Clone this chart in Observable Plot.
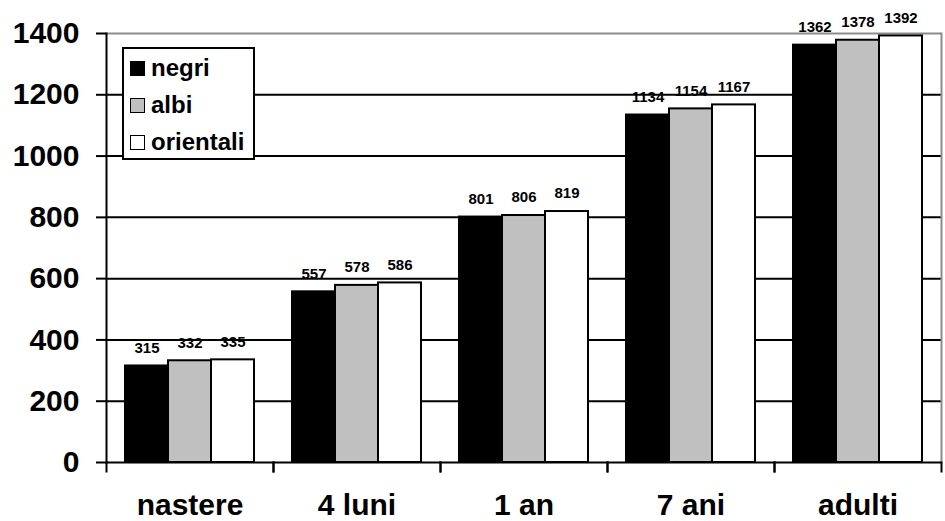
<!DOCTYPE html>
<html>
<head>
<meta charset="utf-8">
<script src="https://cdn.jsdelivr.net/npm/d3@7"></script>
<script src="https://cdn.jsdelivr.net/npm/@observablehq/plot@0.6"></script>
<style>
  html, body { margin: 0; padding: 0; background: #fff; }
  #wrap { position: relative; width: 945px; height: 521px; font-family: "Liberation Sans", Arial, sans-serif; }
  #legend { position: absolute; left: 122px; top: 47px; width: 129px; height: 109px; border: 2px solid #000; background: #fff; }
  .item { position: absolute; left: 6px; height: 24px; display: flex; align-items: center; font-size: 24px; font-weight: bold; line-height: 24px; }
  .sw { width: 13px; height: 13px; border: 1.5px solid #000; margin-right: 6px; flex: none; }
</style>
</head>
<body>
<div id="wrap"></div>
<script>
const categories = ["nastere", "4 luni", "1 an", "7 ani", "adulti"];
const series = ["negri", "albi", "orientali"];
const negri = [315, 557, 801, 1134, 1362];
const albi = [332, 578, 806, 1154, 1378];
const orientali = [335, 586, 819, 1167, 1392];
const yTicks = [0, 200, 400, 600, 800, 1000, 1200, 1400];
const colors = ["#000000", "#c0c0c0", "#ffffff"];

const valuesBySeries = [negri, albi, orientali];
const data = [];
categories.forEach((c, i) => series.forEach((s, j) => data.push({cat: c, series: s, value: valuesBySeries[j][i]})));

const W = 945, H = 521, mT = 33, mB = 59, mL = 106, mR = 4;
const innerH = H - mT - mB;

const chart = Plot.plot({
  width: W, height: H,
  marginTop: mT, marginBottom: mB, marginLeft: mL, marginRight: mR,
  style: {fontFamily: "'Liberation Sans', Arial, sans-serif", background: "#fff", overflow: "visible"},
  fx: {domain: categories, padding: 0, label: null},
  x: {domain: series, paddingInner: 0, paddingOuter: 0.44, axis: null},
  y: {domain: [0, 1400], label: null},
  color: {domain: series, range: colors},
  marks: [
    Plot.ruleY(yTicks.filter(v => v > 0 && v < 1400), {stroke: "#000", strokeWidth: 2}),
    Plot.ruleY([1400], {stroke: "#8c8c8c", strokeWidth: 2}),
    Plot.frame({anchor: "right", stroke: "#8c8c8c", strokeWidth: 2, facetAnchor: "right"}),
    Plot.barY(data, {fx: "cat", x: "series", y: "value", fill: "series", stroke: "#000", strokeWidth: 2}),
    Plot.ruleY([0], {stroke: "#000", strokeWidth: 2}),
    Plot.frame({anchor: "left", stroke: "#000", strokeWidth: 2, facetAnchor: "left"}),
    Plot.frame({anchor: "left", stroke: "#000", strokeWidth: 2, insetTop: innerH, insetBottom: -9}),
    Plot.frame({anchor: "right", stroke: "#000", strokeWidth: 2, insetTop: innerH, insetBottom: -9}),
    Plot.text(data, {fx: "cat", x: "series", y: "value", text: d => String(d.value), dy: -18, fontSize: 15, fontWeight: "bold", fill: "#000", lineAnchor: "middle"}),
    Plot.axisY({ticks: yTicks, tickFormat: d => String(d), tickSize: 10, tickPadding: 17, fontSize: 30, fontWeight: "bold", stroke: "#000", strokeWidth: 2, fill: "#000", label: null}),
    Plot.axisFx({anchor: "bottom", tickSize: 0, tickPadding: 31, fontSize: 30, fontWeight: "bold", fill: "#000", label: null})
  ]
});

const wrap = document.getElementById("wrap");
wrap.appendChild(chart);

const legend = document.createElement("div");
legend.id = "legend";
const tops = [7, 44, 81];
series.forEach((s, i) => {
  const it = document.createElement("div");
  it.className = "item";
  it.style.top = tops[i] + "px";
  const sw = document.createElement("span");
  sw.className = "sw";
  sw.style.background = colors[i];
  it.appendChild(sw);
  it.appendChild(document.createTextNode(s));
  legend.appendChild(it);
});
wrap.appendChild(legend);
</script>
</body>
</html>
